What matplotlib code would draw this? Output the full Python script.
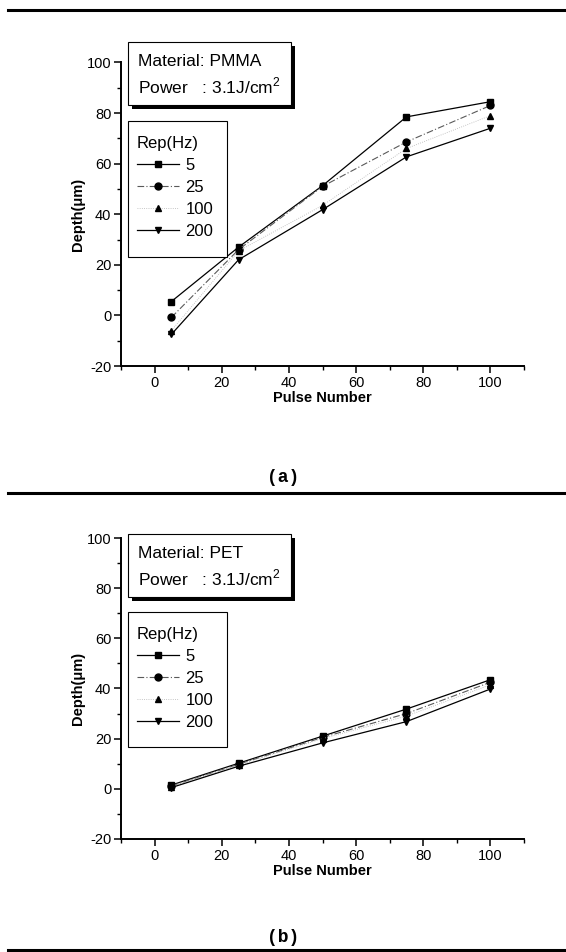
import matplotlib
matplotlib.use("Agg")
import matplotlib.pyplot as plt
from matplotlib.lines import Line2D
from matplotlib.patches import Rectangle

plt.rcParams['font.family'] = ['Liberation Sans', 'DejaVu Sans']
plt.rcParams['axes.unicode_minus'] = False
plt.rcParams['mathtext.fontset'] = 'custom'
plt.rcParams['mathtext.rm'] = 'Liberation Sans'

pulses = [5, 25, 50, 75, 100]
rep_labels = ["5", "25", "100", "200"]

# depth (um) for PMMA, one list per repetition rate
pmma_5 = [5.5, 27, 51.3, 78.5, 84.5]
pmma_25 = [-0.8, 26, 51, 68.6, 83]
pmma_100 = [-6, 25.5, 43.5, 66, 79]
pmma_200 = [-7.5, 22, 41.8, 62.7, 74]

# depth (um) for PET
pet_5 = [1.5, 10.2, 21, 31.8, 43.5]
pet_25 = [1.2, 9.8, 20.5, 30, 42.5]
pet_100 = [0.9, 9.5, 20, 29, 41.5]
pet_200 = [0.5, 9.0, 18.3, 26.8, 39.8]

materials = ["PMMA", "PET"]
panel_tags = ["(a)", "(b)"]

W, H = 566, 952
fig = plt.figure(figsize=(W / 100, H / 100), dpi=100)


def fx(px):
    return px / W


def fy(py):
    return 1 - py / H


styles = [
    dict(marker="s", color="black", ls="-", lw=0.9),
    dict(marker="o", color="0.35", ls=(0, (6, 2, 1, 2)), lw=0.8),
    dict(marker="^", color="0.7", ls=":", lw=0.6),
    dict(marker="v", color="black", ls="-", lw=0.9),
]


def draw_panel(top_px, bot_px, series, material, tag, box_top, leg_top, leg_bot, tag_y, rule_y):
    ax = fig.add_axes([fx(121), fy(bot_px), fx(524) - fx(121), fy(top_px) - fy(bot_px)])
    for vals, lab, st in zip(series, rep_labels, styles):
        ax.plot(pulses, vals, label=lab, marker=st["marker"], color=st["color"],
                ls=st["ls"], lw=st["lw"], markersize=5,
                markerfacecolor="black", markeredgecolor="black")
    ax.set_xlim(-10, 110)
    ax.set_ylim(-20, 100)
    ax.set_xticks([0, 20, 40, 60, 80, 100])
    ax.set_yticks([-20, 0, 20, 40, 60, 80, 100])
    ax.set_xticks(range(-10, 111, 20), minor=True)
    ax.set_yticks(range(-10, 100, 20), minor=True)
    for s in ["top", "right"]:
        ax.spines[s].set_visible(False)
    for s in ["left", "bottom"]:
        ax.spines[s].set_linewidth(1.4)
    ax.tick_params(which="major", direction="out", length=5, width=1.1, labelsize=10.5, pad=2)
    ax.tick_params(which="minor", direction="out", length=3, width=1.0)
    ax.set_xlabel("Pulse Number", fontsize=10.5, fontweight="bold", labelpad=1)
    ax.set_ylabel("Depth(\u03bcm)", fontsize=10.5, fontweight="bold", labelpad=1)

    # info box with drop shadow
    bx0, bx1, by0, by1 = 128, 291, box_top, box_top + 63
    fig.add_artist(Rectangle((fx(bx0 + 4), fy(by1 + 4)), fx(bx1 - bx0), fy(by0) - fy(by1),
                             transform=fig.transFigure, facecolor="black", edgecolor="none"))
    fig.add_artist(Rectangle((fx(bx0), fy(by1)), fx(bx1 - bx0), fy(by0) - fy(by1),
                             transform=fig.transFigure, facecolor="white", edgecolor="black", lw=0.8))
    fig.text(fx(138), fy(by0 + 19), "Material: " + material, fontsize=12.5, va="center")
    fig.text(fx(138), fy(by0 + 44), "Power   : 3.1J/cm$^2$", fontsize=12.5, va="center")

    # legend frame drawn by hand, legend itself unframed
    ax.add_patch(Rectangle((fx(128), fy(leg_bot)), fx(227 - 128), fy(leg_top) - fy(leg_bot),
                           transform=fig.transFigure, facecolor="white", edgecolor="black",
                           lw=0.8, zorder=4, clip_on=False))
    leg = ax.legend(title="Rep(Hz)", loc="upper left", bbox_to_anchor=(fx(137), fy(leg_top + 15)),
                    bbox_transform=fig.transFigure, borderaxespad=0, borderpad=0, fontsize=12,
                    title_fontsize=12, frameon=False, handlelength=2.5, handletextpad=0.4,
                    labelspacing=0.42)
    leg._legend_box.align = "left"
    leg.set_zorder(5)

    fig.text(0.5, fy(tag_y), tag, fontsize=13, fontweight="bold", family="Liberation Mono",
             ha="center", va="center")
    fig.add_artist(Line2D([0.015, 1], [fy(rule_y)] * 2, color="black", lw=2.2,
                          transform=fig.transFigure))


fig.add_artist(Line2D([0.015, 1], [fy(10)] * 2, color="black", lw=2.2, transform=fig.transFigure))

draw_panel(62.5, 366, [pmma_5, pmma_25, pmma_100, pmma_200], materials[0], panel_tags[0],
           42, 121, 257, 477, 493)
draw_panel(538, 839, [pet_5, pet_25, pet_100, pet_200], materials[1], panel_tags[1],
           534, 612, 747, 937, 950)

fig.savefig("out.png", dpi=100)
